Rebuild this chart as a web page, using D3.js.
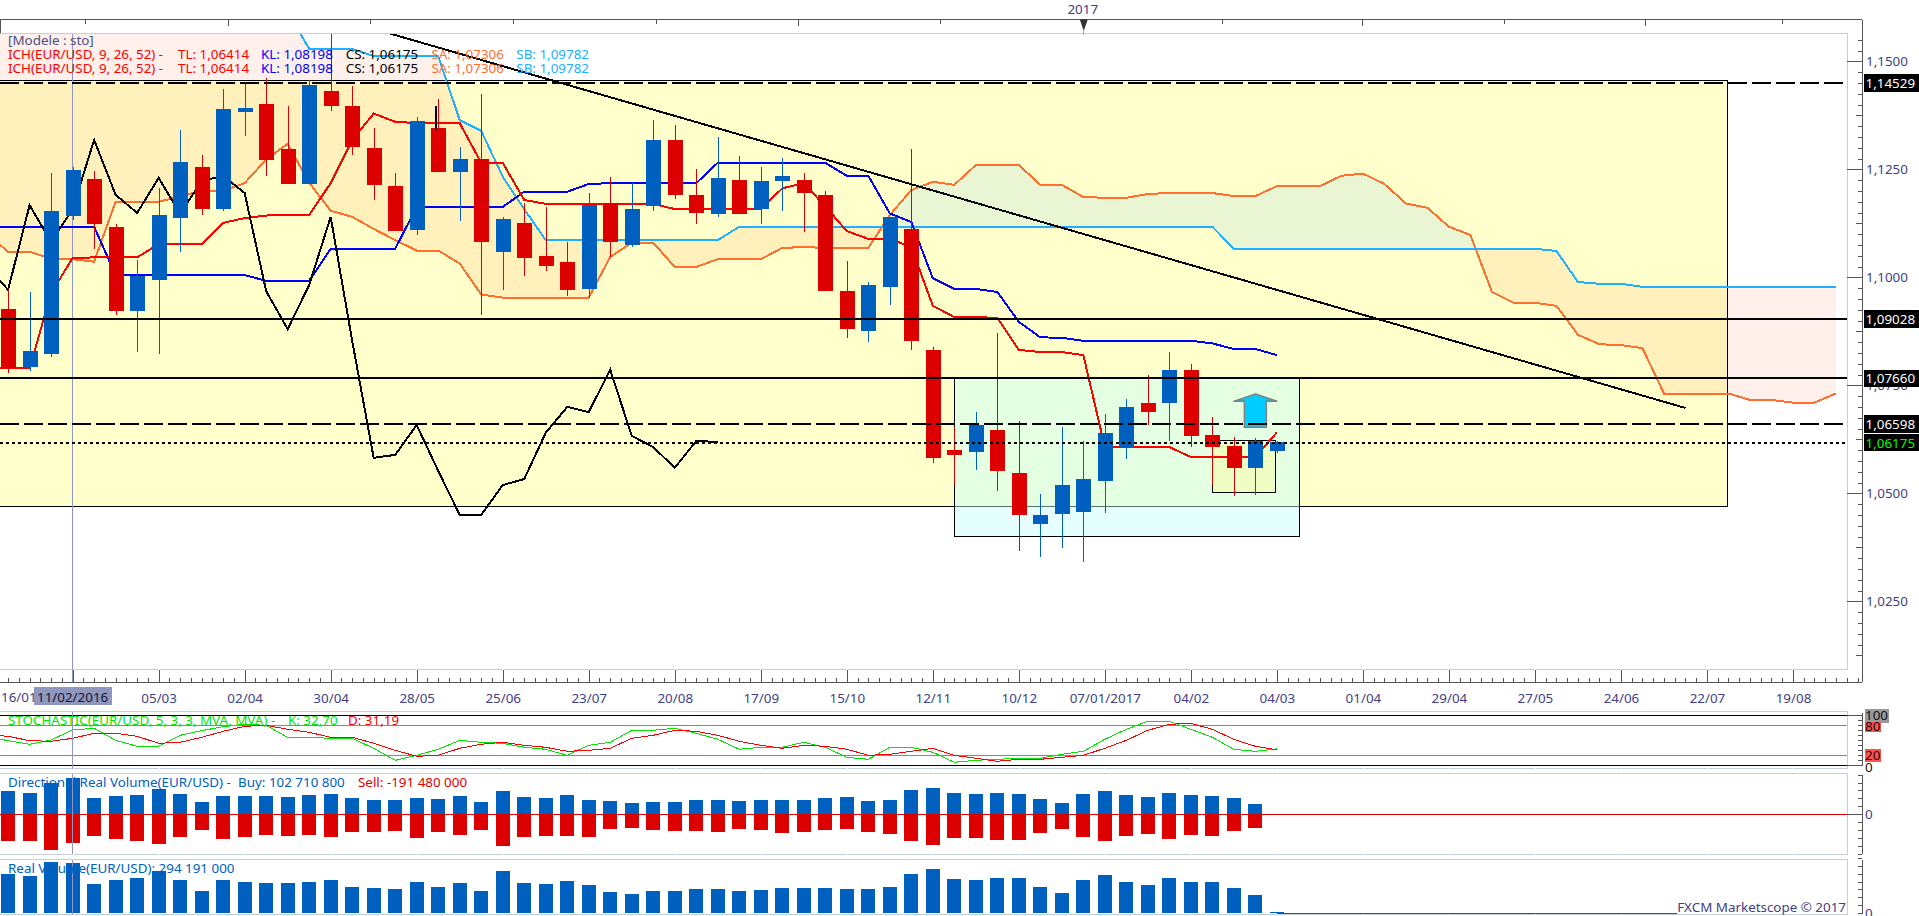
<!DOCTYPE html>
<html>
<head>
<meta charset="utf-8">
<script src="https://d3js.org/d3.v7.min.js"></script>
<style>
  html, body { margin: 0; padding: 0; background: #fff; overflow: hidden; }
  text { font-family: "Noto Sans", "DejaVu Sans", sans-serif; font-size: 13.4px; }
  .axis path.domain { display: none; }
  .axis line { stroke: #555; shape-rendering: crispEdges; }
  .axis text { fill: #3f3f85; font-family: "Noto Sans", "DejaVu Sans", sans-serif; font-size: 13.4px; }
  .crisp { shape-rendering: crispEdges; }
</style>
</head>
<body>
<div id="chart"></div>
<script>
// weekly EUR/USD candles, first candle is index 0
var opens = [1.0927,1.0793,1.0823,1.1142,1.1228,1.1117,1.0922,1.0994,1.1137,1.1255,
  1.1158,1.1383,1.1401,1.1297,1.1216,1.1431,1.1397,1.1299,1.1211,1.1110,
  1.1346,1.1244,1.1274,1.1059,1.1126,1.1049,1.1035,1.0973,1.1172,1.1075,
  1.1165,1.1318,1.1191,1.1147,1.1225,1.1158,1.1223,1.1225,1.1191,1.0968,
  1.0876,1.0978,1.1112,1.0832,1.0600,1.0596,1.0647,1.0547,1.0429,1.0452,
  1.0457,1.0529,1.0606,1.0709,1.0709,1.0786,1.0635,1.0610,1.0559,1.0598];
var closes = [1.0789,1.0830,1.1154,1.1248,1.1124,1.0922,1.1004,1.1144,1.1267,1.1158,
  1.1390,1.1392,1.1272,1.1216,1.1445,1.1397,1.1302,1.1214,1.1107,1.1362,
  1.1244,1.1274,1.1082,1.1135,1.1045,1.1026,1.0971,1.1167,1.1082,1.1158,
  1.1318,1.1191,1.1149,1.1230,1.1147,1.1223,1.1235,1.1195,1.0968,1.0880,
  1.0982,1.1140,1.0853,1.0582,1.0589,1.0658,1.0552,1.0450,1.0450,1.0519,
  1.0533,1.0640,1.0700,1.0688,1.0786,1.0633,1.0607,1.0559,1.0621,1.0619];
var highs = [1.0972,1.0966,1.1242,1.1256,1.1246,1.1124,1.1040,1.1206,1.1341,1.1283,
  1.1436,1.1449,1.1461,1.1397,1.1457,1.1566,1.1443,1.1346,1.1242,1.1371,
  1.1413,1.1302,1.1424,1.1140,1.1171,1.1163,1.1082,1.1195,1.1232,1.1218,
  1.1364,1.1353,1.1251,1.1325,1.1281,1.1255,1.1276,1.1242,1.1200,1.1038,
  1.0989,1.1140,1.1297,1.0839,1.0654,1.0688,1.0870,1.0668,1.0499,1.0654,
  1.0621,1.0684,1.0718,1.0774,1.0827,1.0799,1.0677,1.0630,1.0628,1.0621];
var lows = [1.0779,1.0784,1.0816,1.1133,1.1066,1.0913,1.0826,1.0823,1.1059,1.1144,
  1.1154,1.1327,1.1235,1.1216,1.1216,1.1385,1.1283,1.1179,1.1107,1.1098,
  1.1244,1.1130,1.0913,1.0971,1.1003,1.1015,1.0957,1.0953,1.1047,1.1070,
  1.1154,1.1181,1.1123,1.1140,1.1147,1.1123,1.1154,1.1105,1.0968,1.0860,
  1.0850,1.0936,1.0832,1.0570,1.0519,1.0554,1.0505,1.0367,1.0353,1.0374,
  1.0341,1.0455,1.0580,1.0658,1.0621,1.0607,1.0519,1.0494,1.0496,1.0593];

// ichimoku lines, these start one week before the first candle (index -1)
var tenkan = [1.0789,1.0789,1.0789,1.0963,1.1045,1.1046,1.1046,1.1046,1.1077,1.1077,1.1077,
  1.1126,1.1137,1.1143,1.1144,1.1144,1.1218,1.1318,1.1379,1.1360,1.1357,
  1.1357,1.1357,1.1265,1.1265,1.1179,1.1170,1.1170,1.1170,1.1170,1.1170,
  1.1170,1.1158,1.1158,1.1158,1.1158,1.1158,1.1206,1.1218,1.1164,1.1107,
  1.1089,1.1089,1.1070,1.0934,1.0908,1.0908,1.0906,1.0832,1.0827,1.0827,
  1.0820,1.0607,1.0607,1.0607,1.0607,1.0584,1.0584,1.0584,1.0584,1.0641];
var kijun = [1.1117,1.1117,1.1117,1.1117,1.1117,1.1117,1.1005,1.1005,1.1005,1.1005,1.1005,
  1.1005,1.1005,1.0992,1.0992,1.0992,1.1066,1.1066,1.1066,1.1066,1.1163,
  1.1163,1.1163,1.1163,1.1163,1.1198,1.1198,1.1198,1.1216,1.1218,1.1218,
  1.1218,1.1218,1.1218,1.1265,1.1265,1.1265,1.1265,1.1265,1.1265,1.1235,
  1.1235,1.1148,1.1128,1.0998,1.0973,1.0973,1.0966,1.0897,1.0861,1.0860,
  1.0853,1.0853,1.0853,1.0853,1.0853,1.0853,1.0847,1.0834,1.0834,1.0820];
var senkouA = [1.1102,1.1059,1.1059,1.1043,1.1042,1.1036,1.1175,1.1175,1.1175,1.1187,1.1200,
  1.1200,1.1218,1.1273,1.1309,1.1219,1.1154,1.1140,1.1112,1.1086,1.1062,
  1.1062,1.1032,1.0960,1.0953,1.0953,1.0953,1.0953,1.0953,1.1047,1.1080,
  1.1080,1.1024,1.1024,1.1042,1.1042,1.1042,1.1068,1.1070,1.1068,1.1068,
  1.1068,1.1144,1.1202,1.1221,1.1214,1.1260,1.1260,1.1260,1.1214,1.1214,
  1.1186,1.1184,1.1184,1.1193,1.1195,1.1195,1.1195,1.1188,1.1188,1.1211,
  1.1211,1.1211,1.1235,1.1240,1.1216,1.1171,1.1161,1.1117,1.1098,1.0966,
  1.0941,1.0941,1.0934,1.0867,1.0845,1.0843,1.0836,1.0731,1.0731,1.0731,
  1.0731,1.0716,1.0716,1.0710,1.0710,1.0731];
var senkouB = [1.1614,1.1614,1.1614,1.1614,1.1614,1.1614,1.1614,1.1614,1.1614,1.1614,1.1614,
  1.1614,1.1614,1.1614,1.1614,1.1529,1.1529,1.1529,1.1512,1.1512,1.1512,
  1.1512,1.1364,1.1339,1.1233,1.1158,1.1086,1.1086,1.1086,1.1086,1.1086,
  1.1086,1.1086,1.1086,1.1086,1.1117,1.1117,1.1117,1.1117,1.1117,1.1117,
  1.1117,1.1117,1.1117,1.1117,1.1117,1.1117,1.1117,1.1117,1.1117,1.1117,
  1.1117,1.1117,1.1117,1.1117,1.1117,1.1117,1.1117,1.1066,1.1066,1.1066,
  1.1066,1.1066,1.1066,1.1066,1.1066,1.1066,1.1066,1.1066,1.1066,1.1066,
  1.1066,1.1066,1.1061,1.0989,1.0985,1.0985,1.0978,1.0978,1.0978,1.0978,
  1.0978,1.0978,1.0978,1.0978,1.0978,1.0978];
var chikou = [1.1026,1.0971,1.1167,1.1082,1.1158,1.1318,1.1191,1.1149,1.1230,1.1147,1.1223,
  1.1235,1.1195,1.0968,1.0880,1.0982,1.1140,1.0853,1.0582,1.0589,1.0658,
  1.0552,1.0450,1.0450,1.0519,1.0533,1.0640,1.0700,1.0688,1.0786,1.0633,
  1.0607,1.0559,1.0621,1.0619];

// stochastic, also from index -1
var stochK = [57,49.3,42,50.7,70.7,74,50,38,38,60,69.3,
  77.3,82,80,56,56,54,54,34,10,20,
  32,50,46,44,36,32,20,40,46,70,
  70,74,64,52,32,36,36,46,36,16,
  12,36,36,26,6,10,12,14,14,22,
  28,52,72,88,88,72,56,32,28,32.7];
var stochD = [61,58,49.3,48,54,64,64,58,44,46,56,
  68,78,80,72,66,56,56,44,30,18,
  20,34,42,46,40,36,28,30,34,54,
  60,70,68,60,48,40,34,40,38,32,
  20,22,28,34,20,14,8,12,12,16,
  20,34,50,70,82,84,72,52,38,31.19];

// volumes in billions, from the first candle
var buyVolume = [5.88,5.38,7.90,9.16,4.12,4.62,4.87,6.38,5.12,3.11,
  4.62,4.62,4.62,4.37,4.87,5.12,4.12,3.61,3.61,4.12,
  3.86,4.62,3.11,5.88,4.37,4.12,4.87,3.61,3.36,2.86,
  3.11,3.11,3.61,3.61,3.36,3.61,3.61,3.61,4.12,4.37,
  3.36,3.61,6.13,6.64,5.38,5.12,5.38,5.12,3.86,2.86,
  5.12,5.88,4.87,4.37,5.38,4.87,4.62,4.12,2.60,0.10];
var sellVolume = [6.72,6.72,8.99,7.22,5.46,6.22,6.72,7.48,5.71,3.95,
  6.22,5.71,5.21,5.46,5.21,5.71,4.45,4.45,4.20,5.96,
  4.45,5.21,3.95,7.98,5.71,5.46,5.46,5.71,3.70,3.44,
  3.95,4.20,4.20,4.45,3.70,3.95,4.70,4.45,3.95,3.70,
  4.45,4.96,6.72,7.73,5.96,5.96,6.47,6.47,4.70,3.70,
  5.71,6.72,5.46,4.96,6.22,5.21,5.46,4.20,3.44,0.19];
var realVolume = [9.91,9.41,12.94,12.68,7.39,8.40,8.90,10.67,8.40,5.63,
  8.40,7.90,7.64,7.64,7.90,8.40,6.64,6.38,6.13,7.90,
  6.64,7.64,5.63,10.67,7.64,7.39,8.15,7.14,5.38,4.87,
  5.63,5.63,6.13,6.13,5.63,5.88,6.38,6.38,6.38,6.13,
  6.13,6.64,9.91,11.17,8.65,8.40,8.90,8.90,6.64,5.12,
  8.40,9.66,7.90,7.14,8.90,7.90,7.90,6.38,4.62,0.29];

// date axis
var dateIndex = [7,11,15,19,23,27,31,35,39,43,47,51,55,59,63,67,71,75,79,83];
var dateLabels = ["05/03","02/04","30/04","28/05","25/06","23/07","20/08","17/09","15/10","12/11",
  "10/12","07/01/2017","04/02","04/03","01/04","29/04","27/05","24/06","22/07","19/08"];
var cursorIndex = 3;
var cursorLabel = "11/02/2016";
var monthIndex = [3.58,10.23,16.83,23.48,30.11,36.73,43.33,50.02,56.47,62.98,69.57,76.13,82.48];
var quarterIndex = [10.23,36.73,62.98,76.13];

// price axis and drawn levels
var priceTicks = [1.15,1.125,1.10,1.075,1.05,1.025];
var levelPrice = [1.1450,1.09028,1.0766,1.06598,1.06175];
var levelLabel = ["1,14529","1,09028","1,07660","1,06598","1,06175"];
var levelDash = ["19,5","","","19,5","3,3"];
var levelLabelColor = ["#fff","#fff","#fff","#fff","#00ff00"];

// drawing objects on the chart
var trendIndex = [17.66,78];
var trendPrice = [1.15656,1.06975];
var zoneIndex = [-2,79.97];
var zonePrice = [1.1456,1.0470];
var targetIndex = [44,60.03];
var targetPrice = [1.0766,1.0399];
var patternIndex = [56,58.94];
var patternPrice = [1.0622,1.0502];
var arrowIndex = 58;
var arrowPrice = [1.0730,1.0653];

var width = 1919, height = 916;
var plotRight = 1847, axisX = 1862;
var blue = "#0060bf", red = "#dc0000";

var x = d3.scaleLinear().domain([0,85]).range([8.1,1836]);
var y = d3.scaleLinear().domain([1.025,1.15]).range([601.3,61.3]);
var yStoch = d3.scaleLinear().domain([0,100]).range([765.3,715.3]);
var yDir = d3.scaleLinear().domain([-10,10]).range([854,774.6]);
var yVol = d3.scaleLinear().domain([0,14]).range([913.3,857.7]);

var svg = d3.select("#chart").append("svg")
  .attr("width", width).attr("height", height)
  .style("display", "block");
var defs = svg.append("defs");

defs.append("clipPath").attr("id", "plotClip").append("rect")
  .attr("x", 0).attr("y", 33).attr("width", plotRight).attr("height", 636);

function lineFrom(values, yScale, start) {
  return d3.line()
    .x(function (d, i) { return x(i + start); })
    .y(function (d) { return yScale(d); })(values);
}

// kumo, split at the crossings with two clips on the senkou B line
var cloudIdx = d3.range(senkouA.length);
defs.append("clipPath").attr("id", "aboveB").append("path")
  .attr("d", d3.area()
    .x(function (i) { return x(i - 1); })
    .y0(0)
    .y1(function (i) { return y(senkouB[i]); })(cloudIdx));
defs.append("clipPath").attr("id", "belowB").append("path")
  .attr("d", d3.area()
    .x(function (i) { return x(i - 1); })
    .y0(height)
    .y1(function (i) { return y(senkouB[i]); })(cloudIdx));
var cloudArea = d3.area()
  .x(function (i) { return x(i - 1); })
  .y0(function (i) { return y(senkouA[i]); })
  .y1(function (i) { return y(senkouB[i]); });

var plot = svg.append("g").attr("clip-path", "url(#plotClip)");

plot.append("g").attr("clip-path", "url(#belowB)").append("path")
  .attr("d", cloudArea(cloudIdx)).attr("fill", "#fff0eb");

// yellow zone multiplies over the bearish cloud
plot.append("rect").attr("class", "crisp")
  .attr("x", x(zoneIndex[0])).attr("y", y(zonePrice[0]))
  .attr("width", x(zoneIndex[1]) - x(zoneIndex[0]))
  .attr("height", y(zonePrice[1]) - y(zonePrice[0]))
  .attr("fill", "#ffffcc").attr("stroke", "#000")
  .style("mix-blend-mode", "multiply");

// bullish part of the cloud, it stays inside the zone
plot.append("g").attr("clip-path", "url(#aboveB)").append("path")
  .attr("d", cloudArea(cloudIdx))
  .attr("fill", "#e9f5d3");

plot.append("line")
  .attr("x1", x(cursorIndex)).attr("x2", x(cursorIndex))
  .attr("y1", 33).attr("y2", 669)
  .attr("stroke", "#8f96bf").attr("class", "crisp");

plot.append("rect").attr("class", "crisp")
  .attr("x", x(targetIndex[0])).attr("y", y(targetPrice[0]))
  .attr("width", x(targetIndex[1]) - x(targetIndex[0]))
  .attr("height", y(targetPrice[1]) - y(targetPrice[0]))
  .attr("fill", "rgba(197,255,255,0.45)").attr("stroke", "#000");

plot.append("rect").attr("class", "crisp")
  .attr("x", x(patternIndex[0])).attr("y", y(patternPrice[0]))
  .attr("width", x(patternIndex[1]) - x(patternIndex[0]))
  .attr("height", y(patternPrice[1]) - y(patternPrice[0]))
  .attr("fill", "#efffc4").attr("stroke", "#000");

// ichimoku lines
var ichimoku = [
  { v: senkouA, c: "#ff7030" },
  { v: senkouB, c: "#20b0ff" },
  { v: kijun, c: "#0000ff" },
  { v: tenkan, c: "#ff0000" },
  { v: chikou, c: "#000000" }
];
plot.selectAll("path.ich").data(ichimoku).enter().append("path")
  .attr("class", "ich crisp")
  .attr("fill", "none")
  .attr("stroke", function (d) { return d.c; })
  .attr("stroke-width", 2)
  .attr("d", function (d) { return lineFrom(d.v, y, -1); });

// candles
var candles = plot.selectAll("g.candle").data(d3.range(opens.length)).enter()
  .append("g").attr("class", "candle crisp");
candles.append("line")
  .attr("x1", function (i) { return Math.round(x(i)) + 0.5; })
  .attr("x2", function (i) { return Math.round(x(i)) + 0.5; })
  .attr("y1", function (i) { return y(highs[i]); })
  .attr("y2", function (i) { return y(lows[i]); })
  .attr("stroke", function (i) { return closes[i] > opens[i] ? blue : red; });
candles.append("rect")
  .attr("x", function (i) { return Math.round(x(i)) - 7; })
  .attr("width", 14.6)
  .attr("y", function (i) { return y(Math.max(opens[i], closes[i])); })
  .attr("height", function (i) { return Math.abs(y(opens[i]) - y(closes[i])); })
  .attr("fill", function (i) { return closes[i] > opens[i] ? blue : red; });

// little black mark over the wick of candle 20
plot.append("line").attr("class", "crisp")
  .attr("x1", x(19.92)).attr("x2", x(19.92))
  .attr("y1", y(1.1397)).attr("y2", y(1.1341))
  .attr("stroke", "#000").attr("stroke-width", 2);

// arrow sits under the levels, the dashed level crosses its shaft
var ax = x(arrowIndex), ayTop = y(arrowPrice[0]), ayBot = y(arrowPrice[1]);
plot.append("path")
  .attr("d", d3.line()([
    [ax, ayTop], [ax + 22, ayTop + 7.4], [ax + 11, ayTop + 7.4], [ax + 11, ayBot],
    [ax - 11, ayBot], [ax - 11, ayTop + 7.4], [ax - 22, ayTop + 7.4]
  ]) + "Z")
  .attr("fill", "#00ccff").attr("stroke", "#808080").attr("stroke-width", 1.5);

// horizontal levels and trend line go on top of the candles
plot.selectAll("line.level").data(levelPrice).enter().append("line")
  .attr("class", "level crisp")
  .attr("x1", 0)
  .attr("x2", function (d, i) { return levelDash[i].indexOf("19") == 0 ? 1843 : plotRight; })
  .attr("y1", function (d) { return y(d); })
  .attr("y2", function (d) { return y(d); })
  .attr("stroke", "#000").attr("stroke-width", 2)
  .attr("stroke-dasharray", function (d, i) { return levelDash[i]; });

plot.append("line").attr("class", "crisp")
  .attr("x1", x(trendIndex[0])).attr("y1", y(trendPrice[0]))
  .attr("x2", x(trendIndex[1])).attr("y2", y(trendPrice[1]))
  .attr("stroke", "#000").attr("stroke-width", 2);

// panel frames
var panels = [[33, 669.5], [711.5, 768.5], [773.5, 854], [859.5, 914.5]];
svg.selectAll("rect.frame").data(panels).enter().append("rect")
  .attr("class", "frame crisp")
  .attr("x", -2).attr("y", function (d) { return d[0]; })
  .attr("width", plotRight + 2).attr("height", function (d) { return d[1] - d[0]; })
  .attr("fill", "none").attr("stroke", "#c3cfdf");

// notches in the lower edge of every panel at the date ticks
panels.forEach(function (p) {
  svg.selectAll(null).data([cursorIndex].concat(dateIndex)).enter().append("rect")
    .attr("class", "crisp")
    .attr("x", function (d) { return x(d); })
    .attr("y", p[1] - 0.5).attr("width", 1).attr("height", 1)
    .attr("fill", "#fff");
});

// stochastic panel
var stochLevels = [[100, "#000", 1.6], [80, "#f05a5a", 1], [20, "#f05a5a", 1], [0, "#000", 1.6]];
svg.selectAll("line.stochLevel").data(stochLevels).enter().append("line")
  .attr("class", "stochLevel crisp")
  .attr("x1", 0).attr("x2", plotRight)
  .attr("y1", function (d) { return yStoch(d[0]); })
  .attr("y2", function (d) { return yStoch(d[0]); })
  .attr("stroke", function (d) { return d[1]; })
  .attr("stroke-width", function (d) { return d[2]; });
svg.append("path").attr("class", "crisp").attr("fill", "none")
  .attr("stroke", "#00e600").attr("d", lineFrom(stochK, yStoch, -1));
svg.append("path").attr("class", "crisp").attr("fill", "none")
  .attr("stroke", "#ff0000").attr("d", lineFrom(stochD, yStoch, -1));

// directional volume
var volIdx = d3.range(buyVolume.length);
svg.selectAll("rect.buy").data(volIdx).enter().append("rect")
  .attr("class", "buy crisp")
  .attr("x", function (i) { return Math.round(x(i)) - 7; }).attr("width", 14)
  .attr("y", function (i) { return yDir(buyVolume[i]); })
  .attr("height", function (i) { return yDir(0) - yDir(buyVolume[i]); })
  .attr("fill", blue);
svg.selectAll("rect.sell").data(volIdx).enter().append("rect")
  .attr("class", "sell crisp")
  .attr("x", function (i) { return Math.round(x(i)) - 7; }).attr("width", 14)
  .attr("y", yDir(0))
  .attr("height", function (i) { return yDir(-sellVolume[i]) - yDir(0); })
  .attr("fill", red);
svg.append("line").attr("class", "crisp")
  .attr("x1", 0).attr("x2", plotRight)
  .attr("y1", yDir(0)).attr("y2", yDir(0))
  .attr("stroke", "#dc0000").attr("stroke-width", 1.5);

// real volume
svg.selectAll("rect.real").data(volIdx).enter().append("rect")
  .attr("class", "real crisp")
  .attr("x", function (i) { return Math.round(x(i)) - 7; }).attr("width", 14)
  .attr("y", function (i) { return yVol(realVolume[i]); })
  .attr("height", function (i) { return yVol(0) - yVol(realVolume[i]); })
  .attr("fill", blue);
svg.append("line").attr("class", "crisp")
  .attr("x1", x(59)).attr("x2", x(85))
  .attr("y1", yVol(0)).attr("y2", yVol(0))
  .attr("stroke", blue).attr("stroke-width", 1.5);

// cursor runs over the lower panels
[[669, 682], [711.5, 768.5], [773.5, 854], [859.5, 914.5]].forEach(function (p) {
  svg.append("line").attr("class", "crisp")
    .attr("x1", x(cursorIndex)).attr("x2", x(cursorIndex))
    .attr("y1", p[0]).attr("y2", p[1])
    .attr("stroke", "#8f96bf");
});

// top time axis
svg.append("line").attr("class", "crisp")
  .attr("x1", 0).attr("x2", axisX).attr("y1", 19.5).attr("y2", 19.5).attr("stroke", "#555");
svg.append("line").attr("class", "crisp")
  .attr("x1", 0.5).attr("x2", 0.5).attr("y1", 19.5).attr("y2", 33).attr("stroke", "#555");
svg.append("g").attr("class", "axis").attr("transform", "translate(0,19.5)")
  .call(d3.axisBottom(x).tickValues(monthIndex).tickFormat("").tickSize(4).tickSizeOuter(0));
svg.append("g").attr("class", "axis").attr("transform", "translate(0,19.5)")
  .call(d3.axisBottom(x).tickValues(quarterIndex).tickFormat("").tickSize(6).tickSizeOuter(0));
var yearX = x(50.02);
svg.append("path")
  .attr("d", d3.line()([[yearX - 4, 19.5], [yearX + 4, 19.5], [yearX, 31]]) + "Z")
  .attr("fill", "#333");
svg.append("line").attr("class", "crisp")
  .attr("x1", yearX).attr("x2", yearX).attr("y1", 30).attr("y2", 35).attr("stroke", "#aab");
svg.append("text").attr("x", yearX - 1).attr("y", 14)
  .attr("text-anchor", "middle").attr("fill", "#3f3f85").text("2017");

// bottom date axis
svg.append("line").attr("class", "crisp")
  .attr("x1", 0).attr("x2", axisX).attr("y1", 682).attr("y2", 682).attr("stroke", "#555");
svg.append("g").attr("class", "axis").attr("transform", "translate(0,682)")
  .call(d3.axisTop(x).tickValues(d3.range(0, 86.5, 0.5)).tickFormat("").tickSize(4.5).tickSizeOuter(0));
svg.append("g").attr("class", "axis").attr("transform", "translate(0,682)")
  .call(d3.axisTop(x).tickValues([cursorIndex].concat(dateIndex)).tickFormat("").tickSize(12).tickSizeOuter(0));
svg.append("g").attr("class", "axis").attr("transform", "translate(0,682)")
  .call(d3.axisBottom(x).tickValues(dateIndex)
    .tickFormat(function (d, i) { return dateLabels[i]; })
    .tickSize(0).tickPadding(11))
  .selectAll("line").remove();
svg.append("text").attr("x", 1).attr("y", 702).attr("fill", "#3f3f85").text("16/01");
svg.append("rect").attr("class", "crisp")
  .attr("x", 34).attr("y", 687).attr("width", 78).attr("height", 18).attr("fill", "#9097be");
svg.append("text").attr("x", x(cursorIndex)).attr("y", 702)
  .attr("text-anchor", "middle").attr("fill", "#15153a").text(cursorLabel);

// price axis
svg.append("line").attr("class", "crisp")
  .attr("x1", axisX).attr("x2", axisX).attr("y1", 19.5).attr("y2", 682).attr("stroke", "#555");
svg.append("g").attr("class", "axis").attr("transform", "translate(" + axisX + ",0)")
  .call(d3.axisRight(y).tickValues(d3.range(1.0125, 1.1551, 0.0025)).tickFormat("").tickSize(-4).tickSizeOuter(0));
svg.append("g").attr("class", "axis").attr("transform", "translate(" + axisX + ",0)")
  .call(d3.axisRight(y).tickValues(d3.range(1.0125, 1.1551, 0.0125)).tickFormat("").tickSize(-6).tickSizeOuter(0));
svg.append("g").attr("class", "axis").attr("transform", "translate(" + axisX + ",0)")
  .call(d3.axisRight(y).tickValues(priceTicks)
    .tickFormat(function (d) { return d3.format(".4f")(d).replace(".", ","); })
    .tickSize(-15).tickPadding(4).tickSizeOuter(0));

// level labels
var levelLabels = svg.selectAll("g.levelLabel").data(levelPrice).enter().append("g")
  .attr("class", "levelLabel")
  .attr("transform", function (d) { return "translate(1864," + y(d) + ")"; });
levelLabels.append("rect").attr("class", "crisp")
  .attr("y", -8.8).attr("width", 55).attr("height", 17.6).attr("fill", "#000");
levelLabels.append("text").attr("x", 1.5).attr("dy", 5)
  .attr("fill", function (d, i) { return levelLabelColor[i]; })
  .text(function (d, i) { return levelLabel[i]; });

// stochastic axis
var stochAxisLabels = [[100, "#999"], [80, "#ff5050"], [20, "#ff5050"]];
svg.append("line").attr("class", "crisp")
  .attr("x1", axisX).attr("x2", axisX).attr("y1", 713).attr("y2", 766).attr("stroke", "#555");
svg.append("g").attr("class", "axis").attr("transform", "translate(" + axisX + ",0)")
  .call(d3.axisRight(yStoch).tickValues(d3.range(0, 101, 10)).tickFormat("").tickSize(-4).tickSizeOuter(0));
svg.append("g").attr("class", "axis").attr("transform", "translate(" + axisX + ",0)")
  .call(d3.axisRight(yStoch).tickValues([0, 100]).tickFormat("").tickSize(-15).tickSizeOuter(0));
svg.append("text").attr("x", 1865).attr("y", 772).attr("fill", "#111").text("0");
var stochTags = svg.selectAll("g.stochTag").data(stochAxisLabels).enter().append("g")
  .attr("class", "stochTag")
  .attr("transform", function (d) { return "translate(1865," + yStoch(d[0]) + ")"; });
stochTags.append("rect").attr("class", "crisp")
  .attr("y", function (d) { return d[0] == 100 ? -6 : (d[0] == 80 ? -3 : -6); })
  .attr("height", function (d) { return d[0] == 100 ? 13.4 : (d[0] == 80 ? 10 : 12.6); })
  .attr("width", function (d) { return d[0] == 100 ? 24 : 16; })
  .attr("fill", function (d) { return d[1]; });
stochTags.append("text").attr("x", 0)
  .attr("dy", function (d) { return d[0] == 100 ? 5 : (d[0] == 80 ? 6 : 5); })
  .attr("fill", "#111").text(function (d) { return d[0]; });

// volume axes
svg.append("line").attr("class", "crisp")
  .attr("x1", axisX).attr("x2", axisX).attr("y1", 775).attr("y2", 854).attr("stroke", "#555");
svg.append("g").attr("class", "axis").attr("transform", "translate(" + axisX + ",0)")
  .call(d3.axisRight(yDir).tickValues(d3.range(-10, 11, 2)).tickFormat("").tickSize(-4).tickSizeOuter(0));
svg.append("g").attr("class", "axis").attr("transform", "translate(" + axisX + ",0)")
  .call(d3.axisRight(yDir).tickValues([0]).tickFormat(d3.format("d")).tickSize(-15).tickPadding(3).tickSizeOuter(0));
svg.append("line").attr("class", "crisp")
  .attr("x1", axisX).attr("x2", axisX).attr("y1", 860).attr("y2", 913.5).attr("stroke", "#555");
svg.append("g").attr("class", "axis").attr("transform", "translate(" + axisX + ",0)")
  .call(d3.axisRight(yVol).tickValues(d3.range(0, 15, 2)).tickFormat("").tickSize(-4).tickSizeOuter(0));
svg.append("g").attr("class", "axis").attr("transform", "translate(" + axisX + ",0)")
  .call(d3.axisRight(yVol).tickValues([0]).tickFormat(d3.format("d")).tickSize(-4).tickPadding(3).tickSizeOuter(0));

// legends
var ichLegend = [
  ["ICH(EUR/USD, 9, 26, 52) -", 8, "#ff0000"],
  ["TL: 1,06414", 178, "#ff0000"],
  ["KL: 1,08198", 261, "#0000ff"],
  ["CS: 1,06175", 345.7, "#000"],
  ["SA: 1,07306", 431.4, "#ff7030"],
  ["SB: 1,09782", 516.3, "#20b0ff"]
];
svg.append("text").attr("x", 8).attr("y", 45).attr("fill", "#4a4f85").text("[Modele : sto]");
[59, 73].forEach(function (baseY) {
  svg.selectAll(null).data(ichLegend).enter().append("text")
    .attr("x", function (d) { return d[1]; }).attr("y", baseY)
    .attr("fill", function (d) { return d[2]; })
    .text(function (d) { return d[0]; });
});

var subLegends = [
  ["STOCHASTIC(EUR/USD, 5, 3, 3, MVA, MVA) -", 8, 725, "#00e600"],
  ["K: 32,70", 288, 725, "#00e600"],
  ["D: 31,19", 348, 725, "#ff0000"],
  ["Directional Real Volume(EUR/USD) -", 8, 786.5, "#0060bf"],
  ["Buy: 102 710 800", 238, 786.5, "#0060bf"],
  ["Sell: -191 480 000", 358, 786.5, "#dc0000"],
  ["Real Volume(EUR/USD): 294 191 000", 8, 872.5, "#0060bf"]
];
svg.selectAll(null).data(subLegends).enter().append("text")
  .attr("x", function (d) { return d[1]; }).attr("y", function (d) { return d[2]; })
  .attr("fill", function (d) { return d[3]; })
  .text(function (d) { return d[0]; });

// watermark
svg.append("rect").attr("x", 1677).attr("y", 900).attr("width", 169).attr("height", 14).attr("fill", "#fff");
svg.append("text").attr("x", 1846).attr("y", 912)
  .attr("text-anchor", "end").attr("fill", "#3f3f85").text("FXCM Marketscope \u00a9 2017");
</script>
</body>
</html>
